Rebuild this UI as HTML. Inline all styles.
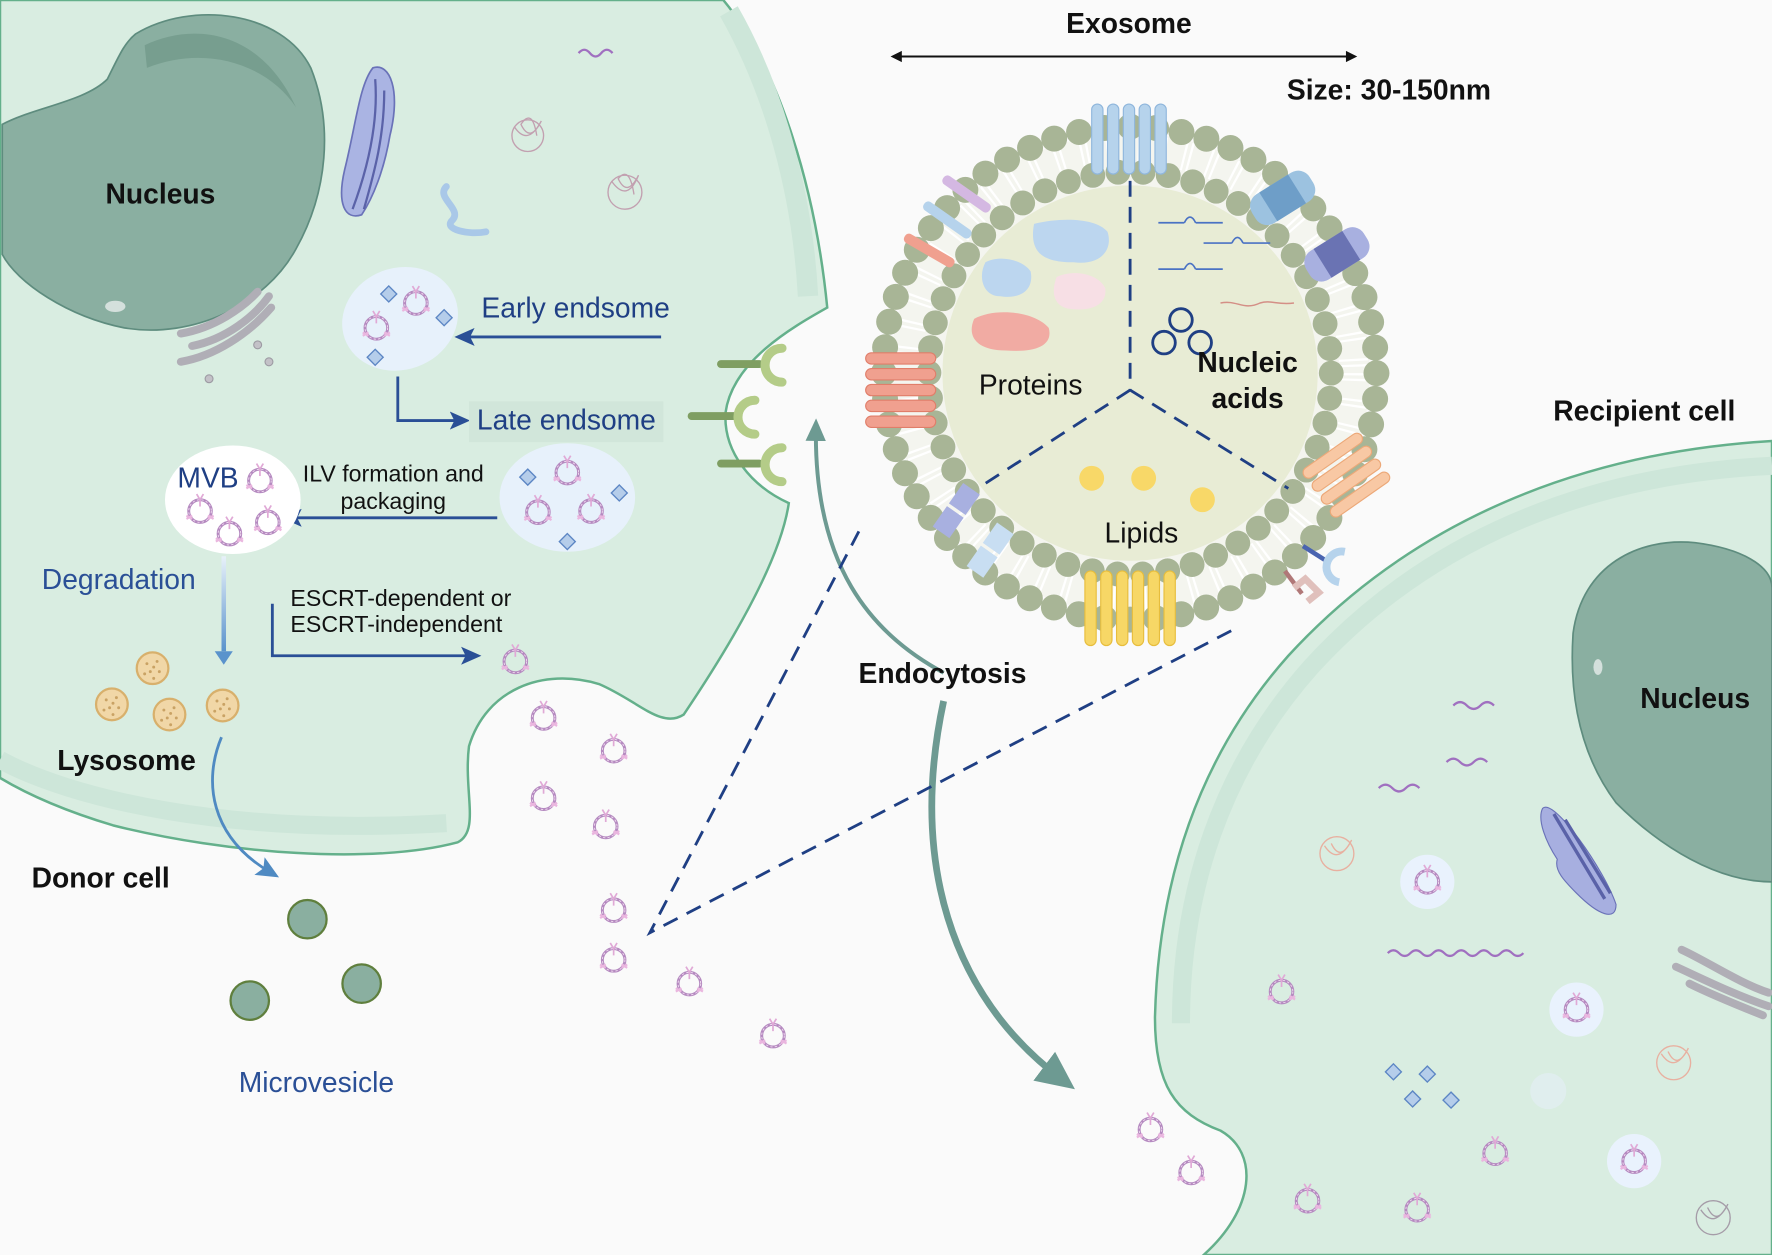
<!DOCTYPE html>
<html><head><meta charset="utf-8"><style>
html,body{margin:0;padding:0;background:#fafafa}
svg{display:block}
text{font-family:"Liberation Sans",Arial,sans-serif}
</style></head><body>
<svg width="1772" height="1255" viewBox="0 0 1568 1110" preserveAspectRatio="none" xmlns="http://www.w3.org/2000/svg">
<defs>
<g id="v">
<circle cx="0" cy="0" r="10" fill="none" stroke="#b58ac0" stroke-width="2.6"/>
<circle cx="0" cy="0" r="10" fill="none" stroke="#f1dcf0" stroke-width="0.8" stroke-dasharray="2 2"/>
<path d="M0,-10 V-4 M-3,-15 L0,-10 L3,-15" stroke="#e0a9d6" stroke-width="1.5" fill="none"/>
<path d="M-12,7 l5,-3 M-12,4 l5,3 M7,4 l5,3 M7,7 l5,-3" stroke="#eab6df" stroke-width="2"/>
</g>
<g id="dia"><rect x="-5" y="-5" width="10" height="10" transform="rotate(45)" fill="#b5cdea" stroke="#5c86c4" stroke-width="1.2"/></g>
<g id="lys"><circle r="14" fill="#f1d7a7" stroke="#d8b06c" stroke-width="2"/><g fill="#c9a264"><circle cx="-5" cy="-4" r="1.3"/><circle cx="4" cy="-6" r="1.3"/><circle cx="-2" cy="3" r="1.3"/><circle cx="6" cy="3" r="1.3"/><circle cx="-7" cy="5" r="1.3"/><circle cx="1" cy="9" r="1.3"/><circle cx="1" cy="-1" r="1.3"/></g></g>
<marker id="ab2" markerWidth="18" markerHeight="18" refX="12" refY="9" orient="auto" markerUnits="userSpaceOnUse"><path d="M0,1 L18,9 L0,17 L4,9Z" fill="#2a4f96"/></marker>
<marker id="ag" markerWidth="36" markerHeight="36" refX="20" refY="18" orient="auto" markerUnits="userSpaceOnUse"><path d="M0,2 L34,18 L0,34Z" fill="#6d9a92"/></marker>
<marker id="ag2" markerWidth="20" markerHeight="20" refX="12" refY="10" orient="auto" markerUnits="userSpaceOnUse"><path d="M0,1 L20,10 L0,19Z" fill="#6d9a92"/></marker>
<marker id="alb" markerWidth="20" markerHeight="20" refX="12" refY="10" orient="auto" markerUnits="userSpaceOnUse"><path d="M0,1 L20,10 L0,19 L4,10Z" fill="#4f8ac2"/></marker>
<linearGradient id="gdeg" x1="0" y1="0" x2="0" y2="1"><stop offset="0" stop-color="#e8f1fa"/><stop offset="1" stop-color="#5a93cc"/></linearGradient>
</defs>
<rect width="1568" height="1110" fill="#fafafa"/>

<!-- Donor cell -->
<path d="M0,0 L640,0 C690,60 722,170 732,272 C700,290 648,320 642,365 C640,400 665,430 698,445 C690,500 640,580 605,632 C585,645 565,620 530,605 C480,590 430,610 415,660 C410,700 425,735 405,745 C330,765 200,755 100,730 C50,715 20,700 0,688 Z" fill="#d9ede1" stroke="#64b08b" stroke-width="2.2"/>
<path d="M645,10 C685,80 710,170 715,262" fill="none" stroke="#cde6d9" stroke-width="18"/>
<path d="M0,672 C60,705 200,740 395,728" fill="none" stroke="#cde6d9" stroke-width="16"/>

<!-- donor nucleus -->
<path d="M120,30 C170,0 250,10 275,60 C295,110 290,170 262,220 C235,270 170,300 110,290 C60,280 15,250 2,225 L2,110 C30,95 75,90 95,70 C105,50 110,38 120,30 Z" fill="#8aafa1" stroke="#5e8c7e" stroke-width="1.5"/>
<path d="M128,40 C170,20 230,25 262,95 C235,55 180,40 130,60 Z" fill="#779e8f"/>
<ellipse cx="102" cy="271" rx="9" ry="5" fill="#d4e0dc"/>
<text x="142" y="180" font-size="25" font-weight="bold" text-anchor="middle" fill="#111">Nucleus</text>

<!-- ER purple -->
<path d="M330,60 C345,55 355,80 345,120 C340,150 330,175 320,190 C305,195 298,180 305,150 C315,110 318,75 330,60Z" fill="#aab4e3" stroke="#6a72b8" stroke-width="1.5"/>
<path d="M332,70 C335,110 325,150 312,185 M340,80 C340,120 332,150 322,185" stroke="#5a62a8" stroke-width="2" fill="none"/>
<path d="M395,165 C385,175 410,185 400,195 C392,203 415,208 430,205" stroke="#a9c8e8" stroke-width="6" fill="none" stroke-linecap="round"/>
<path d="M512,47 q5,-6 10,0 q5,6 10,0 q5,-6 10,0" stroke="#a070c0" stroke-width="2" fill="none"/>
<g fill="none" stroke="#c2a0b0" stroke-width="1.2"><circle cx="467" cy="120" r="14"/><path d="M455,112 q12,18 24,-5 q-10,20 -18,3 q10,-15 14,10"/><circle cx="553" cy="170" r="15"/><path d="M541,160 q14,20 24,-5 q-10,20 -18,3 q10,-12 14,14"/></g>
<g stroke="#b0aeb6" stroke-width="7" fill="none" stroke-linecap="round">
<path d="M160,320 C190,315 220,295 240,272"/><path d="M170,306 C200,300 225,280 238,262"/><path d="M160,295 C190,290 215,272 228,258"/>
</g>
<g fill="#c3c1c7" stroke="#9d9ba3"><circle cx="228" cy="305" r="3.5"/><circle cx="238" cy="320" r="3.5"/><circle cx="185" cy="335" r="3.5"/></g>

<!-- endosomes -->
<ellipse cx="354" cy="282" rx="52" ry="45" fill="#e7f1fb" transform="rotate(-20 354 282)"/>
<use href="#v" x="368" y="268"/><use href="#v" x="333" y="290"/>
<use href="#dia" x="344" y="260"/><use href="#dia" x="393" y="281"/><use href="#dia" x="332" y="316"/>
<text x="426" y="281" font-size="25" fill="#1f3f84">Early endsome</text>
<line x1="585" y1="298" x2="408" y2="298" stroke="#2a4f96" stroke-width="2.5" marker-end="url(#ab2)"/>
<path d="M352,333 V372 H410" fill="none" stroke="#2a4f96" stroke-width="2.5" marker-end="url(#ab2)"/>
<rect x="415" y="355" width="172" height="36" fill="#d1e6da"/>
<text x="422" y="380" font-size="25" fill="#1f3f84">Late endsome</text>
<ellipse cx="502" cy="440" rx="60" ry="48" fill="#e7f1fb"/>
<use href="#v" x="502" y="418"/><use href="#v" x="476" y="453"/><use href="#v" x="523" y="452"/>
<use href="#dia" x="467" y="422"/><use href="#dia" x="548" y="436"/><use href="#dia" x="502" y="479"/>
<text x="348" y="426" font-size="20.5" text-anchor="middle" fill="#111">ILV formation and</text>
<text x="348" y="450" font-size="20.5" text-anchor="middle" fill="#111">packaging</text>
<line x1="440" y1="458" x2="255" y2="458" stroke="#2a4f96" stroke-width="2.5" marker-end="url(#ab2)"/>
<ellipse cx="206" cy="442" rx="60" ry="48" fill="#ffffff"/>
<text x="157" y="431" font-size="25" fill="#1f3f84">MVB</text>
<use href="#v" x="230" y="425"/><use href="#v" x="177" y="452"/><use href="#v" x="237" y="462"/><use href="#v" x="203" y="472"/>
<text x="37" y="521" font-size="25" fill="#2a4f96">Degradation</text>
<rect x="196" y="492" width="4" height="84" fill="url(#gdeg)"/>
<path d="M190,576 L198,588 L206,576Z" fill="#5a93cc"/>
<text x="257" y="536" font-size="20.5" fill="#111">ESCRT-dependent or</text>
<text x="257" y="559" font-size="20.5" fill="#111">ESCRT-independent</text>
<path d="M241,534 V580 H420" fill="none" stroke="#2a4f96" stroke-width="2.5" marker-end="url(#ab2)"/>
<use href="#v" x="456" y="585"/>
<use href="#lys" x="135" y="591"/><use href="#lys" x="99" y="623"/><use href="#lys" x="150" y="632"/><use href="#lys" x="197" y="624"/>
<text x="112" y="681" font-size="25" font-weight="bold" text-anchor="middle" fill="#111">Lysosome</text>
<path d="M196,652 C180,690 185,740 240,772" fill="none" stroke="#4f8ac2" stroke-width="2.5" marker-end="url(#alb)"/>
<text x="28" y="785" font-size="25" font-weight="bold" fill="#111">Donor cell</text>
<g fill="#8aafa0" stroke="#5f7f3d" stroke-width="2"><circle cx="272" cy="813" r="17"/><circle cx="320" cy="870" r="17"/><circle cx="221" cy="885" r="17"/></g>
<text x="280" y="966" font-size="25" text-anchor="middle" fill="#2a4f96">Microvesicle</text>

<!-- receptors -->
<g stroke="#7f9e62" stroke-width="7" stroke-linecap="round"><line x1="638" y1="322" x2="672" y2="322"/><line x1="612" y1="368" x2="650" y2="368"/><line x1="638" y1="410" x2="672" y2="410"/></g>
<g fill="none" stroke="#b4cc88" stroke-width="8" stroke-linecap="round"><path d="M692,308 A14,14 0 0 0 692,338"/><path d="M668,354 A14,14 0 0 0 668,384"/><path d="M692,396 A14,14 0 0 0 692,426"/></g>
<path d="M835,595 C770,560 720,500 722,378" fill="none" stroke="#6d9a92" stroke-width="3.5" marker-end="url(#ag2)"/>

<!-- free vesicles -->
<use href="#v" x="481" y="635"/><use href="#v" x="543" y="664"/><use href="#v" x="481" y="706"/><use href="#v" x="536" y="731"/>
<use href="#v" x="543" y="805"/><use href="#v" x="543" y="849"/><use href="#v" x="610" y="870"/><use href="#v" x="684" y="916"/>

<!-- Recipient cell -->
<path d="M1568,390 C1400,400 1250,460 1140,580 C1060,670 1025,780 1022,900 C1022,960 1040,985 1080,1000 C1115,1020 1110,1070 1065,1110 L1568,1110 Z" fill="#d9ede1" stroke="#64b08b" stroke-width="2.2"/>
<path d="M1568,412 C1400,420 1260,480 1160,590 C1080,680 1045,790 1045,905" fill="none" stroke="#cde6d9" stroke-width="16"/>
<path d="M1392,560 C1400,500 1450,475 1500,480 C1540,485 1568,500 1568,520 L1568,780 C1520,780 1470,750 1430,710 C1400,670 1388,620 1392,560Z" fill="#8aafa1" stroke="#5e8c7e" stroke-width="1.5"/>
<ellipse cx="1414" cy="590" rx="4" ry="7" fill="#d4e0dc"/>
<text x="1500" y="626" font-size="25" font-weight="bold" text-anchor="middle" fill="#111">Nucleus</text>
<text x="1455" y="372" font-size="25" font-weight="bold" text-anchor="middle" fill="#111">Recipient cell</text>
<g stroke="#a070c0" stroke-width="2" fill="none"><path d="M1286,624 q6,-6 12,0 q6,6 12,0 q6,-6 12,0"/><path d="M1280,674 q6,-6 12,0 q6,6 12,0 q6,-6 12,0"/><path d="M1220,697 q6,-6 12,0 q6,6 12,0 q6,-6 12,0"/><path d="M1228,843 q5,-5 10,0 q5,5 10,0 q5,-5 10,0 q5,5 10,0 q5,-5 10,0 q5,5 10,0 q5,-5 10,0 q5,5 10,0 q5,-5 10,0 q5,5 10,0 q5,-5 10,0 q5,5 10,0"/></g>
<path d="M1365,715 C1375,705 1420,770 1430,800 C1430,815 1415,810 1395,790 C1385,780 1375,770 1378,760 C1368,745 1360,725 1365,715Z" fill="#a7afe0" stroke="#6a72b8"/>
<path d="M1375,720 L1420,795 M1385,725 L1425,790" stroke="#5a62a8" stroke-width="3"/>
<g stroke="#b0aeb6" stroke-width="7" fill="none" stroke-linecap="round"><path d="M1488,840 C1510,850 1540,870 1565,878"/><path d="M1483,855 C1505,865 1535,880 1565,890"/><path d="M1495,870 C1515,880 1540,890 1560,898"/></g>
<g fill="none" stroke="#e8b0a0" stroke-width="1.2"><circle cx="1183" cy="755" r="15"/><path d="M1172,748 q12,18 24,-5 q-10,20 -18,3"/><circle cx="1481" cy="940" r="15"/><path d="M1470,932 q12,18 24,-5 q-10,20 -18,3"/></g>
<g fill="none" stroke="#a59ca8" stroke-width="1.2"><circle cx="1516" cy="1077" r="15"/><path d="M1505,1070 q12,18 24,-5 q-10,20 -18,3"/></g>
<g fill="#e9f2fd"><circle cx="1263" cy="780" r="24"/><circle cx="1395" cy="893" r="24"/><circle cx="1446" cy="1027" r="24"/><circle cx="1370" cy="965" r="16" fill="#e0eeee"/></g>
<use href="#v" x="1263" y="780"/><use href="#v" x="1395" y="893"/><use href="#v" x="1446" y="1027"/><use href="#v" x="1134" y="877"/><use href="#v" x="1323" y="1020"/><use href="#v" x="1157" y="1062"/><use href="#v" x="1254" y="1070"/>
<use href="#v" x="1018" y="999"/><use href="#v" x="1054" y="1037"/>
<use href="#dia" x="1233" y="948"/><use href="#dia" x="1263" y="950"/><use href="#dia" x="1250" y="972"/><use href="#dia" x="1284" y="973"/>

<!-- endocytosis arrow -->
<path d="M835,620 C805,760 840,880 940,955" fill="none" stroke="#6d9a92" stroke-width="6" marker-end="url(#ag)"/>
<text x="834" y="604" font-size="25" font-weight="bold" text-anchor="middle" fill="#111">Endocytosis</text>

<!-- dashed zoom lines -->
<path d="M760,470 L575,825 L1095,555" fill="none" stroke="#1f3f84" stroke-width="2.5" stroke-dasharray="14 9"/>

<!-- Exosome header -->
<text x="999" y="29" font-size="25" font-weight="bold" text-anchor="middle" fill="#111">Exosome</text>
<line x1="792" y1="50" x2="1197" y2="50" stroke="#111" stroke-width="1.8"/>
<path d="M788,50 l10,-5 v10z M1201,50 l-10,-5 v10z" fill="#111"/>
<text x="1229" y="88" font-size="25" font-weight="bold" text-anchor="middle" fill="#111">Size: 30-150nm</text>

<!-- Exosome body -->
<circle cx="1000" cy="330" r="212" fill="#f4f5ef"/>
<circle cx="1000" cy="330" r="198" fill="none" stroke="#ffffff" stroke-width="26" stroke-dasharray="2 3 2 15.8"/>
<circle cx="1000" cy="330" r="218" fill="none" stroke="#a8b596" stroke-width="23" stroke-linecap="round" stroke-dasharray="0 22.83"/>
<circle cx="1000" cy="330" r="178" fill="none" stroke="#a8b596" stroke-width="22" stroke-linecap="round" stroke-dasharray="0 22.37"/>
<circle cx="1000" cy="330" r="166" fill="#e8ecd5"/>

<!-- membrane proteins -->
<g fill="#b6d3ec" stroke="#8fb6dc"><rect x="966" y="92" width="10" height="62" rx="5"/><rect x="980" y="92" width="10" height="62" rx="5"/><rect x="994" y="92" width="10" height="62" rx="5"/><rect x="1008" y="92" width="10" height="62" rx="5"/><rect x="1022" y="92" width="10" height="62" rx="5"/></g>
<g fill="#f7d766" stroke="#e7bd3c"><rect x="960" y="505" width="10" height="66" rx="5"/><rect x="974" y="505" width="10" height="66" rx="5"/><rect x="988" y="505" width="10" height="66" rx="5"/><rect x="1002" y="505" width="10" height="66" rx="5"/><rect x="1016" y="505" width="10" height="66" rx="5"/><rect x="1030" y="505" width="10" height="66" rx="5"/></g>
<g fill="#f0a08f" stroke="#e07e6a"><rect x="766" y="312" width="62" height="10" rx="5"/><rect x="766" y="326" width="62" height="10" rx="5"/><rect x="766" y="340" width="62" height="10" rx="5"/><rect x="766" y="354" width="62" height="10" rx="5"/><rect x="766" y="368" width="62" height="10" rx="5"/></g>
<g transform="rotate(-35 1190 420)" fill="#f8c8a4" stroke="#eca878"><rect x="1160" y="395" width="62" height="10" rx="5"/><rect x="1160" y="409" width="62" height="10" rx="5"/><rect x="1160" y="423" width="62" height="10" rx="5"/><rect x="1160" y="437" width="62" height="10" rx="5"/></g>
<g transform="rotate(-32 1135 175)"><rect x="1105" y="160" width="60" height="30" rx="12" fill="#9cc2e0"/><rect x="1120" y="160" width="30" height="30" fill="#6e9ec8"/></g>
<g transform="rotate(-32 1183 225)"><rect x="1153" y="210" width="60" height="30" rx="12" fill="#a8b0e0"/><rect x="1168" y="210" width="30" height="30" fill="#6a73b3"/></g>
<g transform="rotate(35 855 172)"><rect x="830" y="167" width="50" height="9" rx="4" fill="#d4b8e2"/></g>
<g transform="rotate(35 838 195)"><rect x="813" y="190" width="50" height="9" rx="4" fill="#b6d3ec"/></g>
<g transform="rotate(30 822 222)"><rect x="797" y="217" width="50" height="9" rx="4" fill="#f0a08f"/></g>
<g transform="rotate(-55 845 455)"><rect x="825" y="445" width="22" height="18" fill="#a8b0e0"/><rect x="850" y="445" width="22" height="18" fill="#a8b0e0"/></g>
<g transform="rotate(-55 875 490)"><rect x="855" y="480" width="22" height="18" fill="#c8def2"/><rect x="880" y="480" width="22" height="18" fill="#c8def2"/></g>
<path d="M1153,483 L1172,495" stroke="#4a64b0" stroke-width="4"/><path d="M1190,488 A12,12 0 0 0 1185,515" fill="none" stroke="#b6d3ec" stroke-width="7"/>
<path d="M1137,505 L1152,525" stroke="#b07878" stroke-width="4"/><path d="M1145,520 l10,-8 l12,12 l-10,8" fill="none" stroke="#e0c0bc" stroke-width="6"/>

<!-- dividers -->
<path d="M1000,160 V345 M1000,345 L865,432 M1000,345 L1140,432" fill="none" stroke="#1f3f84" stroke-width="2.5" stroke-dasharray="14 9"/>

<!-- contents -->
<path d="M915,198 C940,192 970,193 980,205 C985,220 975,235 950,232 C925,232 910,225 915,198Z" fill="#bcd6ef"/>
<path d="M872,232 C885,225 905,230 912,240 C915,255 905,265 885,262 C870,262 865,245 872,232Z" fill="#bcd6ef"/>
<path d="M935,245 C950,238 972,242 978,255 C980,270 965,276 945,273 C932,270 930,258 935,245Z" fill="#f7dfe5"/>
<path d="M862,282 C880,272 915,275 928,290 C932,305 918,312 890,310 C865,310 855,298 862,282Z" fill="#f1aba3"/>
<text x="912" y="349" font-size="25" text-anchor="middle" fill="#111">Proteins</text>
<g stroke="#4a72c4" stroke-width="1.5" fill="none">
<path d="M1025,197 H1048 M1058,197 H1082 M1048,197 q5,-10 10,0"/><path d="M1065,215 H1090 M1100,215 H1124 M1090,215 q5,-10 10,0"/><path d="M1025,238 H1048 M1058,238 H1082 M1048,238 q5,-10 10,0"/>
</g>
<path d="M1080,268 C1095,265 1100,275 1115,268 C1125,265 1130,270 1145,268" stroke="#d48f86" stroke-width="1.3" fill="none"/>
<g fill="none" stroke="#1f3f84" stroke-width="2.5"><circle cx="1045" cy="283" r="10"/><circle cx="1030" cy="303" r="10"/><circle cx="1062" cy="303" r="10"/></g>
<text x="1104" y="329" font-size="25" font-weight="bold" text-anchor="middle" fill="#111">Nucleic</text>
<text x="1104" y="361" font-size="25" font-weight="bold" text-anchor="middle" fill="#111">acids</text>
<g fill="#f8d868"><circle cx="966" cy="423" r="11"/><circle cx="1012" cy="423" r="11"/><circle cx="1064" cy="442" r="11"/></g>
<text x="1010" y="480" font-size="25" text-anchor="middle" fill="#111">Lipids</text>
</svg>
</body></html>
